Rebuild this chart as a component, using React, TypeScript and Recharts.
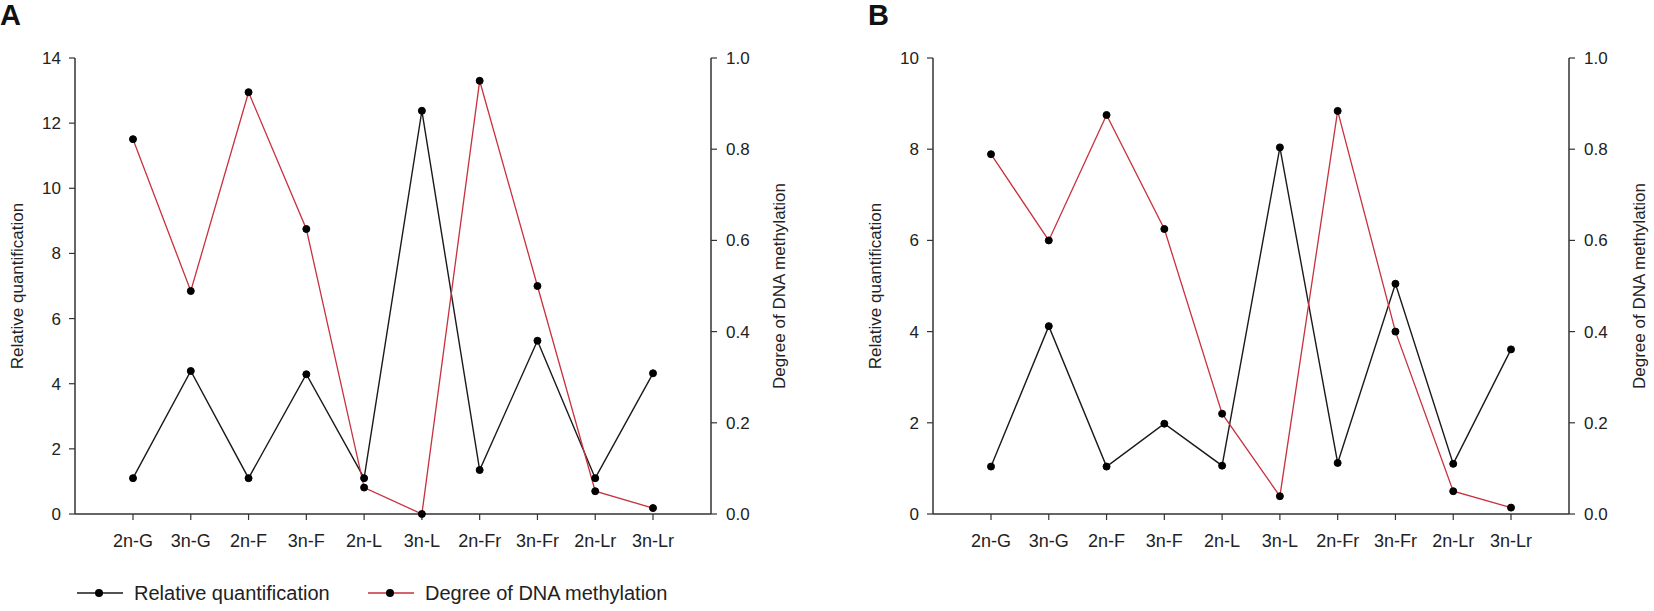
import React from 'react';
import { Legend, Line, LineChart, XAxis, YAxis } from 'recharts';

const categories = ['2n-G', '3n-G', '2n-F', '3n-F', '2n-L', '3n-L', '2n-Fr', '3n-Fr', '2n-Lr', '3n-Lr'];

// panel A
const quantA = [1.1, 4.39, 1.1, 4.29, 1.1, 12.38, 1.35, 5.32, 1.1, 4.32];
const methylA = [0.822, 0.489, 0.925, 0.625, 0.058, 0.0, 0.95, 0.5, 0.05, 0.013];

// panel B
const quantB = [1.04, 4.12, 1.04, 1.98, 1.06, 8.04, 1.12, 5.05, 1.1, 3.61];
const methylB = [0.789, 0.6, 0.875, 0.625, 0.22, 0.039, 0.884, 0.4, 0.05, 0.014];

const quantTicksA = [0, 2, 4, 6, 8, 10, 12, 14];
const quantTicksB = [0, 2, 4, 6, 8, 10];
const methylTicks = [0, 0.2, 0.4, 0.6, 0.8, 1.0];

const seriesNames = ['Relative quantification', 'Degree of DNA methylation'];

const FONT = '"Liberation Sans", Arial, sans-serif';
const RED = '#c8313d';
const AXIS = '#333';

const buildRows = (quant: number[], methyl: number[]) =>
  categories.map((name, i) => ({ name, quant: quant[i], methyl: methyl[i] }));

const renderLegend = (props: any) => {
  // keep the series order, not the alphabetical one
  const items = [...(props.payload || [])].sort(
    (a: any, b: any) => seriesNames.indexOf(a.value) - seriesNames.indexOf(b.value)
  );
  return (
    <div style={{ display: 'flex', alignItems: 'center', height: 30, fontFamily: FONT, fontSize: 20, color: '#222' }}>
      {items.map((entry: any, i: number) => (
        <div key={i} style={{ display: 'flex', alignItems: 'center', width: i === 0 ? 291 : undefined }}>
          <svg width={46} height={12}>
            <line x1={0} y1={6} x2={46} y2={6} stroke={entry.color} strokeWidth={1.5} />
            <circle cx={22} cy={6} r={4} fill="#000" />
          </svg>
          <span style={{ marginLeft: 11, whiteSpace: 'nowrap' }}>{entry.value}</span>
        </div>
      ))}
    </div>
  );
};

interface PanelProps {
  quant: number[];
  methyl: number[];
  quantMax: number;
  quantTicks: number[];
  rightTitleOffset: number;
  showLegend?: boolean;
}

const Panel = ({ quant, methyl, quantMax, quantTicks, rightTitleOffset, showLegend }: PanelProps) => {
  const tickStyle = { fontSize: 17, fill: '#222', fontFamily: FONT };
  return (
    <LineChart
      width={791}
      height={611}
      data={buildRows(quant, methyl)}
      margin={{ top: 58, right: 0, bottom: 57, left: 0 }}
    >
      <XAxis
        dataKey="name"
        height={40}
        interval={0}
        padding={{ left: 58, right: 58 }}
        tickSize={6}
        tickMargin={14}
        tick={{ ...tickStyle, fontSize: 18 }}
        axisLine={{ stroke: AXIS, strokeWidth: 1.5 }}
        tickLine={{ stroke: AXIS, strokeWidth: 1.2 }}
      />
      <YAxis
        yAxisId="left"
        width={75}
        domain={[0, quantMax]}
        ticks={quantTicks}
        interval={0}
        tickSize={6}
        tickMargin={8}
        tick={tickStyle}
        axisLine={{ stroke: AXIS, strokeWidth: 1.5 }}
        tickLine={{ stroke: AXIS, strokeWidth: 1.2 }}
        label={{
          value: seriesNames[0],
          angle: -90,
          position: 'insideLeft',
          offset: 17,
          style: { textAnchor: 'middle', fontSize: 17, fill: '#222', fontFamily: FONT },
        }}
      />
      <YAxis
        yAxisId="right"
        orientation="right"
        width={80}
        domain={[0, 1]}
        ticks={methylTicks}
        interval={0}
        tickFormatter={(v: number) => v.toFixed(1)}
        tickSize={6}
        tickMargin={9}
        tick={tickStyle}
        axisLine={{ stroke: AXIS, strokeWidth: 1.5 }}
        tickLine={{ stroke: AXIS, strokeWidth: 1.2 }}
        label={{
          value: seriesNames[1],
          angle: -90,
          position: 'insideRight',
          offset: rightTitleOffset,
          style: { textAnchor: 'middle', fontSize: 17, fill: '#222', fontFamily: FONT },
        }}
      />
      <Line
        yAxisId="left"
        dataKey="quant"
        name={seriesNames[0]}
        stroke="#1a1a1a"
        strokeWidth={1.4}
        dot={{ r: 3.5, fill: '#000', stroke: '#000', strokeWidth: 1 }}
        isAnimationActive={false}
      />
      <Line
        yAxisId="right"
        dataKey="methyl"
        name={seriesNames[1]}
        stroke={RED}
        strokeWidth={1.3}
        dot={{ r: 3.5, fill: '#000', stroke: '#000', strokeWidth: 1 }}
        isAnimationActive={false}
      />
      {showLegend && (
        <Legend
          verticalAlign="middle"
          align="center"
          content={renderLegend}
          wrapperStyle={{ left: 77, top: 578, width: 700, height: 30 }}
        />
      )}
    </LineChart>
  );
};

const panelLabel = (text: string, left: number) => (
  <div
    style={{
      position: 'absolute',
      left,
      top: 0,
      fontFamily: FONT,
      fontWeight: 'bold',
      fontSize: 29,
      lineHeight: '30px',
      color: '#111',
    }}
  >
    {text}
  </div>
);

export default function App() {
  return (
    <div style={{ position: 'relative', width: 1654, height: 611, background: '#fff', fontFamily: FONT }}>
      <style>{'body{margin:0}'}</style>
      <div style={{ position: 'absolute', left: 0, top: 0 }}>
        <Panel
          quant={quantA}
          methyl={methylA}
          quantMax={14}
          quantTicks={quantTicksA}
          rightTitleOffset={12}
          showLegend
        />
      </div>
      <div style={{ position: 'absolute', left: 858, top: 0 }}>
        <Panel
          quant={quantB}
          methyl={methylB}
          quantMax={10}
          quantTicks={quantTicksB}
          rightTitleOffset={10}
        />
      </div>
      {panelLabel('A', 0)}
      {panelLabel('B', 868)}
    </div>
  );
}
